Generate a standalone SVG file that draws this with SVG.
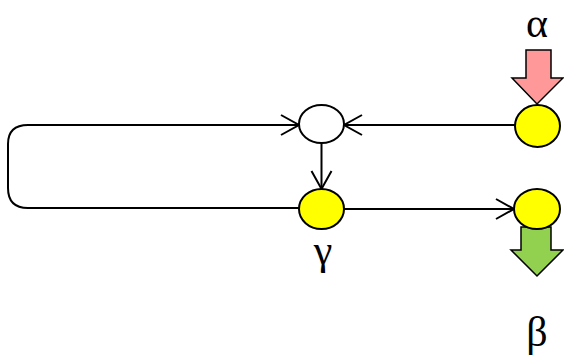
<svg xmlns="http://www.w3.org/2000/svg" width="564" height="363" viewBox="0 0 564 363">
<defs>
<marker id="arr" markerWidth="22" markerHeight="24" refX="19" refY="11" orient="auto" markerUnits="userSpaceOnUse">
<path d="M1,1 L19,11 L1,21" fill="none" stroke="#000" stroke-width="2"/>
</marker>
<style>
.n{stroke:#000;stroke-width:2}
.y{fill:#FFFF00}
.w{fill:#FFFFFF}
.c{fill:none;stroke:#000;stroke-width:2;marker-end:url(#arr)}
.t{font-family:"Liberation Serif","Times New Roman",serif;font-size:42px;fill:#000;text-anchor:middle}
</style>
</defs>
<rect width="564" height="363" fill="#fff"/>
<g id="connectors">
<path class="c" d="M515,125 L344,125"/>
<path class="c" d="M299,208 L28,208 Q8,208 8,188 L8,144 Q8,125 28,125 L299,125"/>
<path class="c" d="M321.5,143 L321.5,189"/>
<path class="c" d="M344,209 L514,209"/>
</g>
<g id="arrow-in">
<polygon points="526,50 551,50 551,78 563,78 537,104 512,78 526,78" fill="#FF9999" stroke="#000" stroke-width="1.5"/>
</g>
<g id="arrow-out">
<polygon points="521,227 551,227 551,250 563,250 537,276 511,250 521,250" fill="#92D050" stroke="#000" stroke-width="1.5"/>
</g>
<g id="node-mix"><ellipse class="n w" cx="321.5" cy="124" rx="22.5" ry="19"/></g>
<g id="node-gamma"><ellipse class="n y" cx="321.5" cy="209" rx="22.5" ry="20"/></g>
<g id="node-in"><ellipse class="n y" cx="537.5" cy="126" rx="22.5" ry="21"/></g>
<g id="node-out"><ellipse class="n y" cx="537" cy="209" rx="23" ry="20"/></g>
<g id="labels">
<text class="t" x="537" y="37">α</text>
<text class="t" x="323" y="264">γ</text>
<text class="t" x="537" y="346">β</text>
</g>
</svg>
